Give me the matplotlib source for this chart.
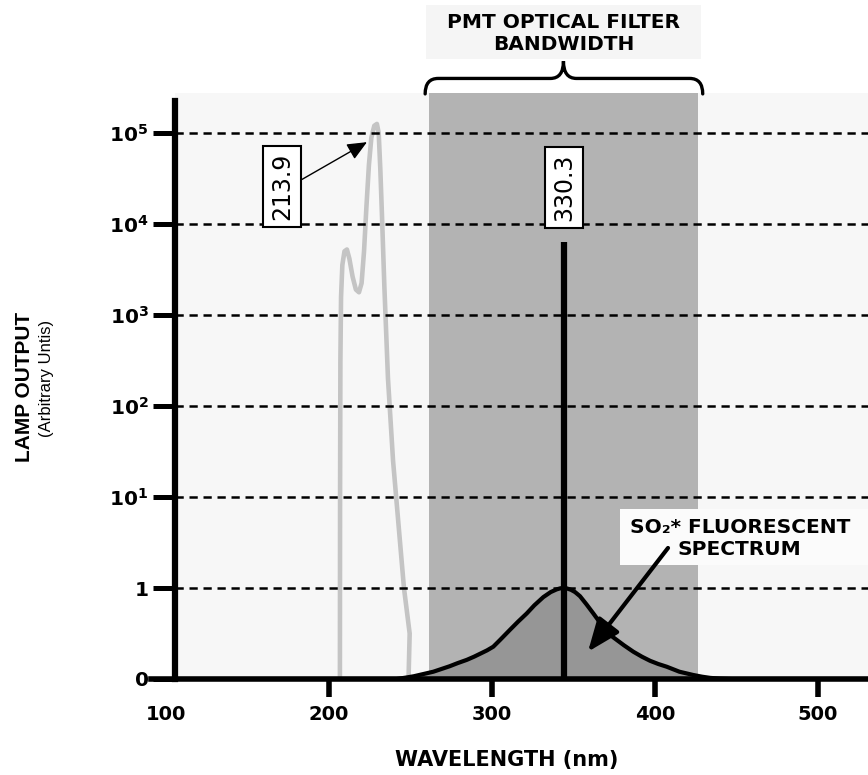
import matplotlib
matplotlib.use('Agg')
import matplotlib.pyplot as plt
from matplotlib.patches import Rectangle, PathPatch
from matplotlib.path import Path

# ---------------- data ----------------
# vertical scale is in "decades": 0 -> 0, 1 -> 1, 2 -> 10^1, ... 6 -> 10^5
ytick_pos = [0, 1, 2, 3, 4, 5, 6]
ytick_labels = ['0', '1', r'$\mathbf{10^1}$', r'$\mathbf{10^2}$',
                r'$\mathbf{10^3}$', r'$\mathbf{10^4}$', r'$\mathbf{10^5}$']
xtick_pos = [100, 200, 300, 400, 500]
xtick_labels = ['100', '200', '300', '400', '500']

# lamp output (gray curve)
lamp_nm = [206.7, 206.8, 207.0, 207.4, 208.2, 209.5, 211.0, 212.5, 214.5, 216.5,
           218.4, 220.0, 221.5, 223.0, 224.5, 226.0, 227.8, 229.4, 230.5, 231.5,
           232.5, 234.0, 236.2, 239.3, 243.6, 246.0, 249.5, 248.8]
lamp_level = [0.0, 2.0, 3.5, 4.2, 4.55, 4.7, 4.72, 4.62, 4.42, 4.28,
              4.25, 4.35, 4.7, 5.2, 5.65, 5.95, 6.08, 6.1, 6.0, 5.6,
              5.1, 4.3, 3.3, 2.4, 1.5, 1.0, 0.5, 0.0]

# SO2* fluorescent spectrum (black curve, filled)
fluor_nm = [241.7, 247.0, 252.0, 258.0, 264.0, 269.0, 274.0, 279.0, 284.5, 289.0,
            293.0, 297.0, 300.8, 305.0, 311.0, 316.0, 321.3, 326.0, 331.5, 336.0,
            339.7, 342.0, 344.0, 346.0, 348.5, 351.0, 354.0, 358.0, 362.2, 368.3,
            372.0, 376.5, 381.0, 386.7, 392.0, 397.0, 402.0, 407.2, 415.0, 423.5,
            429.0, 434.0, 440.0, 446.0]
fluor_level = [0.0, 0.015, 0.03, 0.055, 0.08, 0.11, 0.14, 0.175, 0.21, 0.245,
               0.28, 0.315, 0.355, 0.43, 0.54, 0.63, 0.72, 0.81, 0.90, 0.955,
               0.985, 0.997, 1.0, 0.995, 0.98, 0.955, 0.91, 0.82, 0.72, 0.57,
               0.49, 0.43, 0.37, 0.30, 0.245, 0.20, 0.165, 0.135, 0.08, 0.044,
               0.025, 0.012, 0.004, 0.0]

# 330.3 line
line_nm = 344.0
line_level = 4.8

# PMT optical filter band
band_lo, band_hi = 261.3, 426.4

# ---------------- figure ----------------
W, H = 868, 775
fig = plt.figure(figsize=(W / 100, H / 100), dpi=100)
ax = fig.add_axes([151 / W, 96 / H, 717 / W, 586 / H])
ax.set_facecolor('white')
x_left, x_right = 90.8, 530.7
ax.set_xlim(x_left, x_right)
ax.set_ylim(0, 6.44)
spine_x = 105.5

# light panel and filter band
ax.axvspan(spine_x, x_right, color='#f7f7f7', zorder=0, lw=0)
ax.axvspan(band_lo, band_hi, color='#b3b3b3', zorder=1, lw=0)

# fluorescence fill and lamp
ax.fill_between(fluor_nm, fluor_level, 0, color='#969696', zorder=2, lw=0)
ax.plot(lamp_nm, lamp_level, color='#c4c4c4', lw=3.3, zorder=3,
        solid_joinstyle='round', solid_capstyle='butt')

# dashed grid lines
ax.hlines(ytick_pos[1:], spine_x, x_right, colors='black', lw=1.8,
          linestyles=(0, (3.3, 2.3)), zorder=4)

ax.plot(fluor_nm, fluor_level, color='black', lw=3.0, zorder=5,
        solid_joinstyle='round')
ax.vlines(line_nm, 0, line_level, colors='black', lw=4.5, zorder=6)

# spines / ticks
for s in ['top', 'right']:
    ax.spines[s].set_visible(False)
ax.spines['left'].set_position(('data', spine_x))
ax.spines['left'].set_bounds(0, 6.35)
ax.spines['left'].set_linewidth(4.5)
ax.spines['bottom'].set_linewidth(4.0)
ax.spines['left'].set_zorder(8)
ax.spines['bottom'].set_zorder(8)

ax.set_yticks(ytick_pos)
ax.set_yticklabels(ytick_labels)
ax.set_xticks(xtick_pos)
ax.set_xticklabels(xtick_labels)
ax.tick_params(axis='y', direction='out', length=16, width=3.6, pad=3,
               labelsize=14.5)
ax.tick_params(axis='x', direction='out', length=13, width=4, pad=6,
               labelsize=14)
for lab in ax.get_xticklabels() + ax.get_yticklabels():
    lab.set_fontweight('bold')
    lab.set_family('DejaVu Sans')
ax.xaxis.get_major_ticks()[0].tick1line.set_visible(False)

# labels
ax.text(344.2, 5.4, '330.3', rotation=90, ha='center', va='center',
        fontsize=17, zorder=9,
        bbox=dict(boxstyle='square,pad=0.3', fc='white', ec='black', lw=1.5))
ax.text(171.2, 5.41, '213.9', rotation=90, ha='center', va='center',
        fontsize=17, zorder=9,
        bbox=dict(boxstyle='square,pad=0.3', fc='white', ec='black', lw=1.5))
ax.annotate('', xy=(223.3, 5.9), xytext=(183.4, 5.49), zorder=9,
            arrowprops=dict(arrowstyle='-|>,head_length=0.8,head_width=0.35',
                            mutation_scale=15, lw=1.0, color='black',
                            shrinkA=0, shrinkB=0))

# SO2 label
ax.add_patch(Rectangle((378.5, 1.25), x_right - 378.5, 0.62, fc='#fbfbfb',
                       ec='none', zorder=7))
ax.text(452.0, 1.67, 'SO₂* FLUORESCENT', ha='center', va='center',
        fontsize=14.5, fontweight='bold', zorder=9)
ax.text(452.0, 1.42, 'SPECTRUM', ha='center', va='center',
        fontsize=14.5, fontweight='bold', zorder=9)
ax.annotate('', xy=(358.9, 0.30), xytext=(408.0, 1.44), zorder=9,
            arrowprops=dict(arrowstyle='-|>,head_length=1.0,head_width=0.4',
                            mutation_scale=20, lw=3.0, color='black',
                            shrinkA=0, shrinkB=0))

# title box and brace
mid = (band_lo + band_hi) / 2
ax.add_patch(Rectangle((259.5, 6.81), 428.2 - 259.5, 0.60, fc='#f5f5f5',
                       ec='none', clip_on=False, zorder=7))
ax.text(mid, 7.09, 'PMT OPTICAL FILTER\nBANDWIDTH', ha='center', va='center',
        fontsize=14.5, fontweight='bold', linespacing=1.2, zorder=9,
        clip_on=False)

bl, br = 259.0, 429.3
yb, yh, yc = 6.43, 6.60, 6.79
verts = [(bl, yb), (bl, yh), (bl + 8, yh), (mid - 8, yh), (mid, yh), (mid, yc),
         (mid, yh), (mid + 8, yh), (br - 8, yh), (br, yh), (br, yb)]
codes = [Path.MOVETO, Path.CURVE3, Path.CURVE3, Path.LINETO, Path.CURVE3,
         Path.CURVE3, Path.CURVE3, Path.CURVE3, Path.LINETO, Path.CURVE3,
         Path.CURVE3]
ax.add_patch(PathPatch(Path(verts, codes), fc='none', ec='black', lw=2.4,
                       clip_on=False, zorder=9, capstyle='round'))

# axis titles
fig.text(25 / W, 1 - 387 / H, 'LAMP OUTPUT', rotation=90, ha='center',
         va='center', fontsize=15, fontweight='bold', family='Liberation Sans')
fig.text(47 / W, 1 - 378 / H, '(Arbitrary Untis)', rotation=90, ha='center',
         va='center', fontsize=12, family='Liberation Sans')
fig.text(507 / W, 1 - 760 / H, 'WAVELENGTH (nm)', ha='center', va='center',
         fontsize=15, fontweight='bold')

fig.savefig('out.png', dpi=100)
